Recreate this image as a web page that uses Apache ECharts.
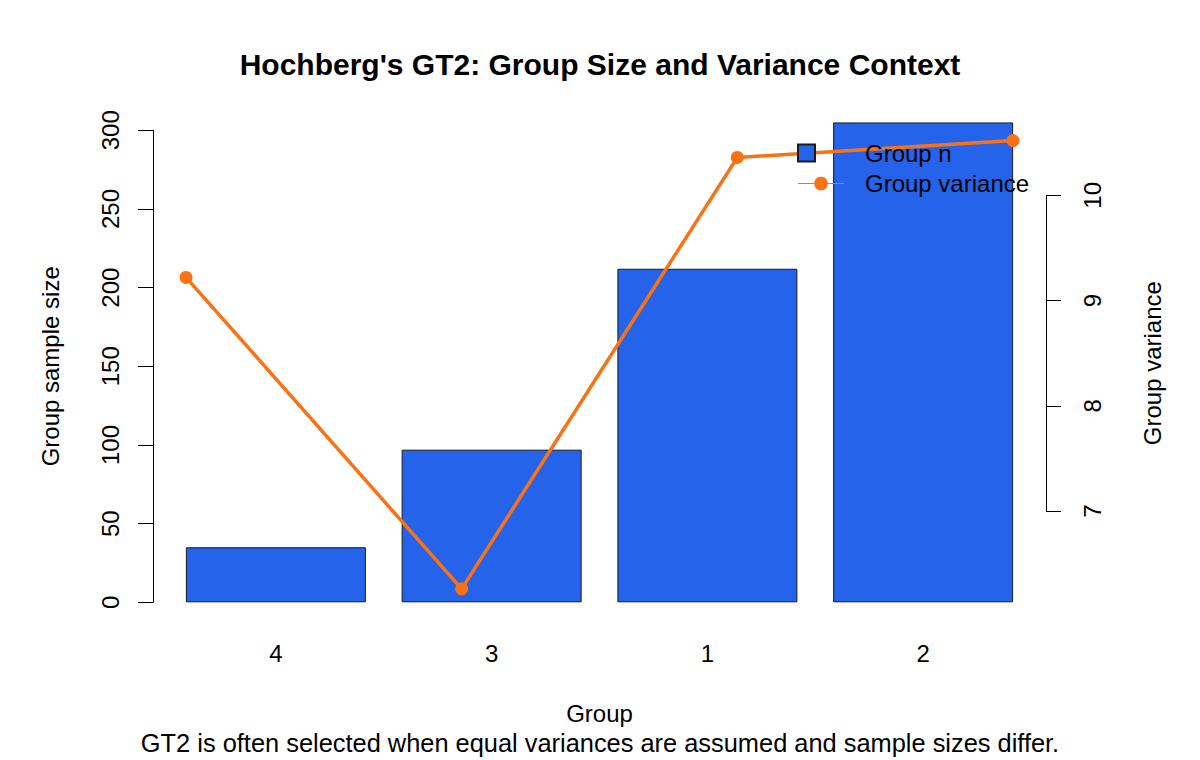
<!DOCTYPE html>
<html>
<head>
<meta charset="utf-8">
<script src="https://cdn.jsdelivr.net/npm/echarts@6/dist/echarts.min.js"></script>
<style>
html,body{margin:0;padding:0;background:#fff;}
#chart{width:1200px;height:760px;}
</style>
</head>
<body>
<div id="chart"></div>
<script>
const groups = ['4', '3', '1', '2'];
const groupN = [35, 97, 212, 305];
const groupVariance = [9.22, 6.26, 10.36, 10.52];
const sizeTicks = { min: 0, max: 300, interval: 50 };
const varTicks = { min: 7, max: 10, interval: 1 };

const FONT = "'Liberation Sans', Arial, Helvetica, sans-serif";
const BLUE = '#2563EB';
const ORANGE = '#F97316';

const chart = echarts.init(document.getElementById('chart'), null, { renderer: 'svg' });

const axisBase = {
  axisLine: { show: true, lineStyle: { color: '#000', width: 1 } },
  axisTick: { show: true, length: 15, lineStyle: { color: '#000', width: 1 } },
  splitLine: { show: false },
  nameTextStyle: { fontFamily: FONT, fontSize: 24, color: '#000' }
};

chart.setOption({
  backgroundColor: '#fff',
  animation: false,
  textStyle: { fontFamily: FONT },
  title: [
    {
      text: "Hochberg's GT2: Group Size and Variance Context",
      left: 'center', top: 49, padding: 0,
      textStyle: { fontFamily: FONT, fontSize: 30, fontWeight: 'bold', color: '#000' }
    },
    {
      text: 'GT2 is often selected when equal variances are assumed and sample sizes differ.',
      left: 'center', top: 730, padding: 0,
      textStyle: { fontFamily: FONT, fontSize: 25.4, fontWeight: 'normal', color: '#000' }
    }
  ],
  legend: {
    orient: 'vertical',
    left: 797, top: 141, padding: 0,
    itemGap: 6.5,
    itemWidth: 46, itemHeight: 17,
    textStyle: { fontFamily: FONT, fontSize: 24, color: '#000', padding: [0, 0, 0, 16] },
    lineStyle: { width: 1 },
    data: [
      { name: 'Group n', icon: 'path://M0,0H17V17H0Z M46,8.5L46,8.5' },
      { name: 'Group variance' }
    ]
  },
  grid: [
    { left: 168, right: 169, top: 130.3, bottom: 157.7 },
    { left: 186, right: 187, top: 195.3, bottom: 249 }
  ],
  xAxis: [
    {
      gridIndex: 0, type: 'category', data: groups,
      name: 'Group', nameLocation: 'middle', nameGap: 99,
      nameTextStyle: { fontFamily: FONT, fontSize: 24, color: '#000' },
      axisLine: { show: false }, axisTick: { show: false },
      axisLabel: { fontFamily: FONT, fontSize: 24, color: '#000', margin: 39 }
    },
    {
      gridIndex: 1, type: 'category', data: groups, boundaryGap: false, show: false
    }
  ],
  yAxis: [
    Object.assign({}, axisBase, {
      gridIndex: 0, type: 'value', position: 'left', offset: 15,
      min: sizeTicks.min, max: sizeTicks.max, interval: sizeTicks.interval,
      name: 'Group sample size', nameLocation: 'middle', nameGap: 91, nameRotate: 90,
      axisLabel: { fontFamily: FONT, fontSize: 24, color: '#000', rotate: 90, margin: 31 }
    }),
    Object.assign({}, axisBase, {
      gridIndex: 1, type: 'value', position: 'right', offset: 33,
      min: varTicks.min, max: varTicks.max, interval: varTicks.interval,
      name: 'Group variance', nameLocation: 'middle', nameGap: 94, nameRotate: 90,
      nameTextStyle: { fontFamily: FONT, fontSize: 24, color: '#000', padding: [0, 20, 0, 0] },
      axisLabel: { fontFamily: FONT, fontSize: 24, color: '#000', rotate: 90, margin: 34 }
    })
  ],
  series: [
    {
      name: 'Group n', type: 'bar',
      xAxisIndex: 0, yAxisIndex: 0,
      data: groupN, barWidth: 180, clip: false,
      itemStyle: { color: BLUE, borderColor: '#1b1b1b', borderWidth: 1 }
    },
    {
      name: 'Group variance', type: 'line',
      xAxisIndex: 1, yAxisIndex: 1,
      data: groupVariance, clip: false,
      symbol: 'circle', symbolSize: 13, showSymbol: true,
      lineStyle: { color: ORANGE, width: 3.5 },
      itemStyle: { color: ORANGE }
    }
  ]
});
</script>
</body>
</html>
